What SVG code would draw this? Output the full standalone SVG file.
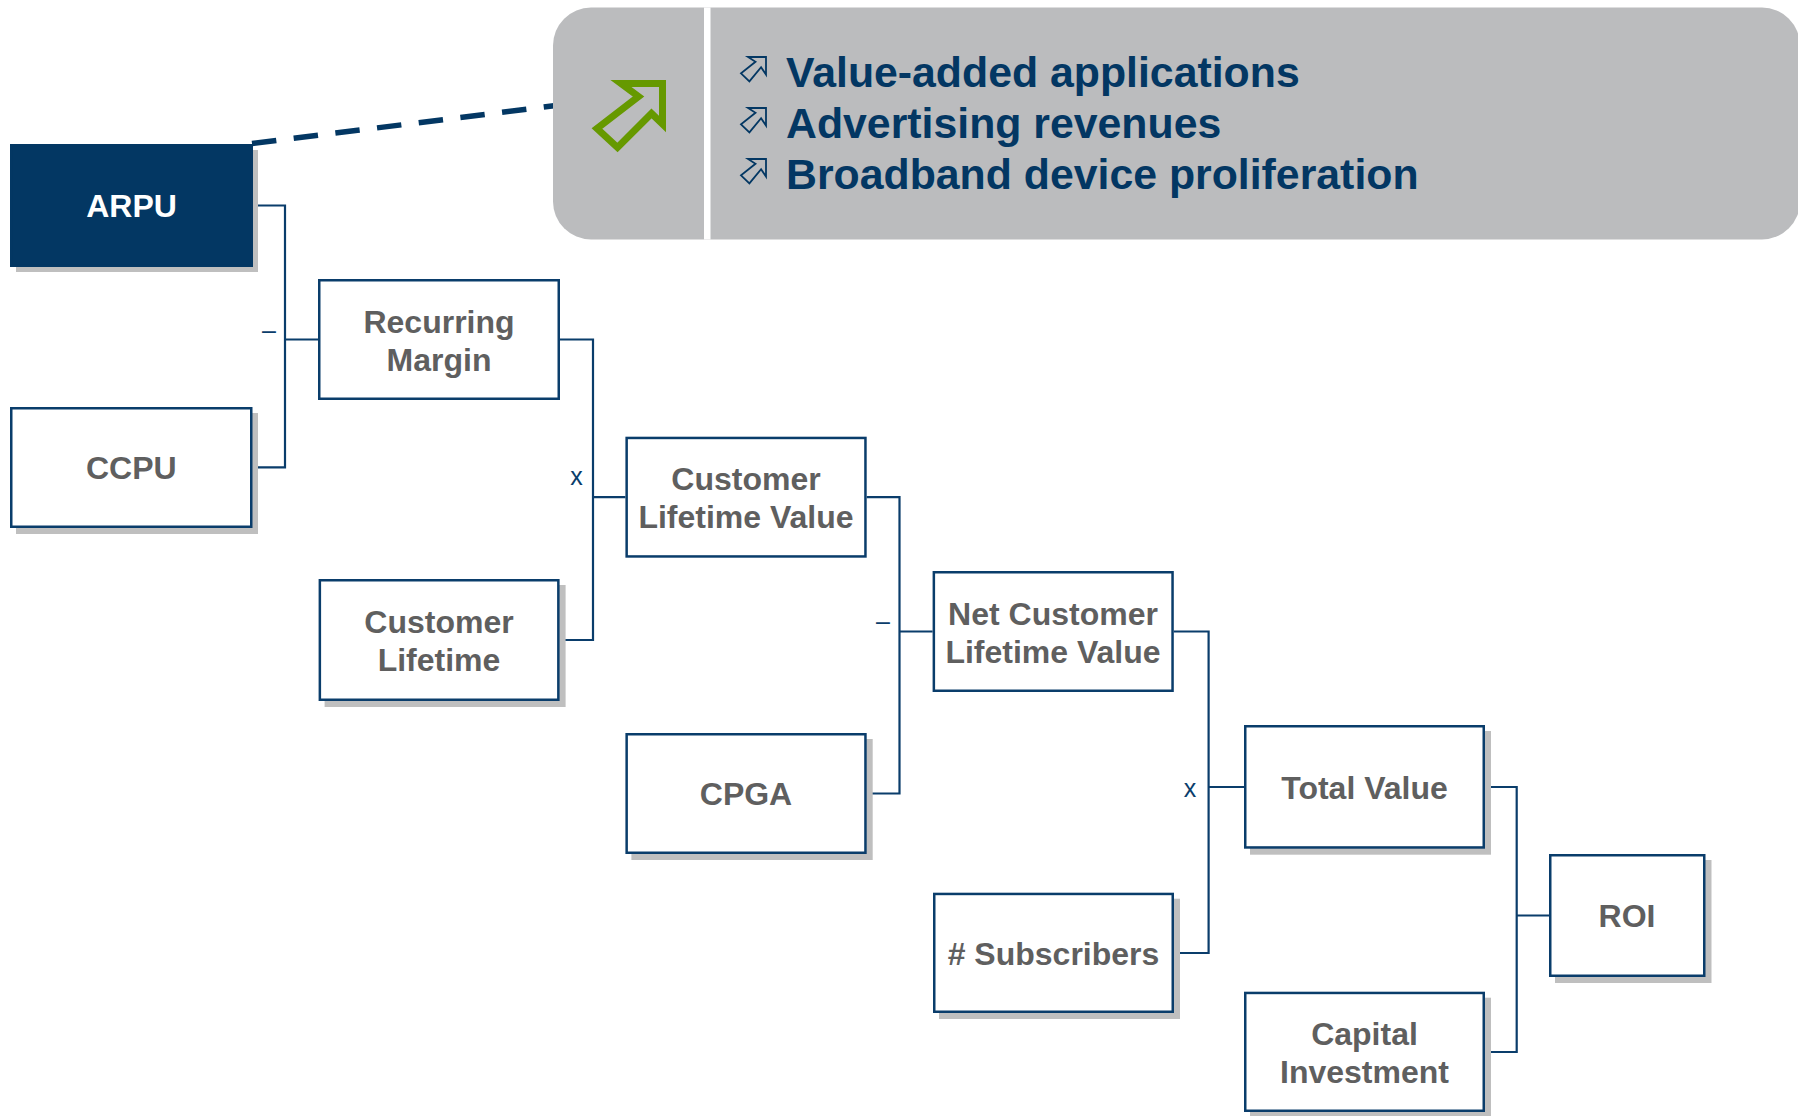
<svg xmlns="http://www.w3.org/2000/svg" xmlns:xlink="http://www.w3.org/1999/xlink" width="1798" height="1116" viewBox="0 0 1798 1116">
  <style>
    .box { fill: #ffffff; stroke: #0a3d6b; stroke-width: 2.5; }
    .dark { fill: #033763; stroke: #033763; stroke-width: 2.5; }
    .shadow { fill: #bfbfbf; }
    .label { font-family: "Liberation Sans", Arial, sans-serif; font-weight: bold; font-size: 32px; fill: #5f5f5f; text-anchor: middle; }
    .label-light { fill: #ffffff; }
    .op { font-family: "Liberation Sans", Arial, sans-serif; font-size: 25px; fill: #0a3d6b; }
    .bullet { font-family: "Liberation Sans", Arial, sans-serif; font-weight: bold; font-size: 42.8px; fill: #033763; }
    .wire { fill: none; stroke: #0a3d6b; stroke-width: 2.2; }
    .icon { fill: none; stroke: #033763; stroke-width: 1.8; stroke-linejoin: miter; }
  </style>
  <defs>
    <!-- hollow up-right arrow, tip at origin -->
    <path id="upArrow" d="M0,0 L-18,0 L-10.5,4.8 L-25,16.4 L-16.6,24.4 L-4.9,10.2 L0,17.6 Z"/>
  </defs>

  <!-- dashed link from ARPU to the driver panel -->
  <line x1="252" y1="143.5" x2="562" y2="104.8" stroke="#033763" stroke-width="5.5" stroke-dasharray="24.5 17.5"/>

  <!-- driver panel -->
  <g id="drivers">
    <rect x="553" y="7.5" width="1247" height="232" rx="38" ry="38" fill="#bbbcbe"/>
    <rect x="704" y="7.5" width="6.5" height="232" fill="#ffffff"/>
    <polygon points="662.5,83.5 621,83.5 638.5,96.5 597,128.5 617.5,147.5 651.5,113.5 662.5,124" fill="none" stroke="#669900" stroke-width="7" stroke-linejoin="miter"/>
    <use xlink:href="#upArrow" class="icon" transform="translate(766,57)"/>
    <use xlink:href="#upArrow" class="icon" transform="translate(766,108)"/>
    <use xlink:href="#upArrow" class="icon" transform="translate(766,159)"/>
    <text class="bullet" x="786" y="86.5">Value-added applications</text>
    <text class="bullet" x="786" y="137.5">Advertising revenues</text>
    <text class="bullet" x="786" y="188.5">Broadband device proliferation</text>
  </g>

  <!-- tree connectors -->
  <g id="connectors">
    <path class="wire" d="M253,205.5 H285 V467.3 H252.6 M285,339.5 H318"/>
    <path class="wire" d="M560,339.5 H593 V640 H559.6 M593,497.2 H625.4"/>
    <path class="wire" d="M866.7,497.2 H899.5 V793.5 H866.7 M899.5,631.5 H932.6"/>
    <path class="wire" d="M1173.8,631.5 H1208.6 V953 H1174 M1208.6,787 H1244"/>
    <path class="wire" d="M1485,787 H1516.7 V1052 H1485 M1516.7,915.5 H1549"/>
    <text class="op" x="262" y="338.5">–</text>
    <text class="op" x="576.5" y="485" text-anchor="middle">x</text>
    <text class="op" x="876" y="629.5">–</text>
    <text class="op" x="1190" y="797" text-anchor="middle">x</text>
  </g>

  <g id="arpu">
    <rect class="shadow" x="16" y="150" width="242" height="122"/>
    <rect class="dark" x="11.25" y="145.25" width="240.5" height="120.5"/>
    <text class="label label-light" x="131.5" y="217">ARPU</text>
  </g>

  <g id="ccpu">
    <rect class="shadow" x="16" y="413" width="242" height="121"/>
    <rect class="box" x="11.25" y="408.25" width="240" height="118.5"/>
    <text class="label" x="131.3" y="478.8">CCPU</text>
  </g>

  <g id="recurring-margin">
    <rect class="box" x="319.25" y="280.25" width="239.5" height="118.5"/>
    <text class="label" x="439" y="332.5">Recurring</text>
    <text class="label" x="439" y="370.5">Margin</text>
  </g>

  <g id="customer-lifetime">
    <rect class="shadow" x="324.6" y="585" width="241" height="122"/>
    <rect class="box" x="319.85" y="580.25" width="238.5" height="119.5"/>
    <text class="label" x="439" y="633">Customer</text>
    <text class="label" x="439" y="671">Lifetime</text>
  </g>

  <g id="customer-lifetime-value">
    <rect class="box" x="626.65" y="437.95" width="238.8" height="118.5"/>
    <text class="label" x="746" y="490.2">Customer</text>
    <text class="label" x="746" y="528.2">Lifetime Value</text>
  </g>

  <g id="cpga">
    <rect class="shadow" x="631.4" y="739" width="241.3" height="121"/>
    <rect class="box" x="626.65" y="734.25" width="238.8" height="118.5"/>
    <text class="label" x="746" y="805">CPGA</text>
  </g>

  <g id="net-customer-lifetime-value">
    <rect class="box" x="933.85" y="572.25" width="238.7" height="118.5"/>
    <text class="label" x="1053" y="624.5">Net Customer</text>
    <text class="label" x="1053" y="662.5">Lifetime Value</text>
  </g>

  <g id="subscribers">
    <rect class="shadow" x="939" y="898.7" width="241" height="120.3"/>
    <rect class="box" x="934.25" y="893.95" width="238.5" height="117.8"/>
    <text class="label" x="1053.5" y="964.5"># Subscribers</text>
  </g>

  <g id="total-value">
    <rect class="shadow" x="1250" y="731" width="241" height="123.7"/>
    <rect class="box" x="1245.25" y="726.25" width="238.5" height="121.2"/>
    <text class="label" x="1364.5" y="798.5">Total Value</text>
  </g>

  <g id="capital-investment">
    <rect class="shadow" x="1250" y="997.7" width="241" height="120.3"/>
    <rect class="box" x="1245.25" y="992.95" width="238.5" height="117.8"/>
    <text class="label" x="1364.5" y="1045">Capital</text>
    <text class="label" x="1364.5" y="1083">Investment</text>
  </g>

  <g id="roi">
    <rect class="shadow" x="1555" y="860" width="156.5" height="123"/>
    <rect class="box" x="1550.25" y="855.25" width="154" height="120.5"/>
    <text class="label" x="1627" y="927">ROI</text>
  </g>
</svg>
